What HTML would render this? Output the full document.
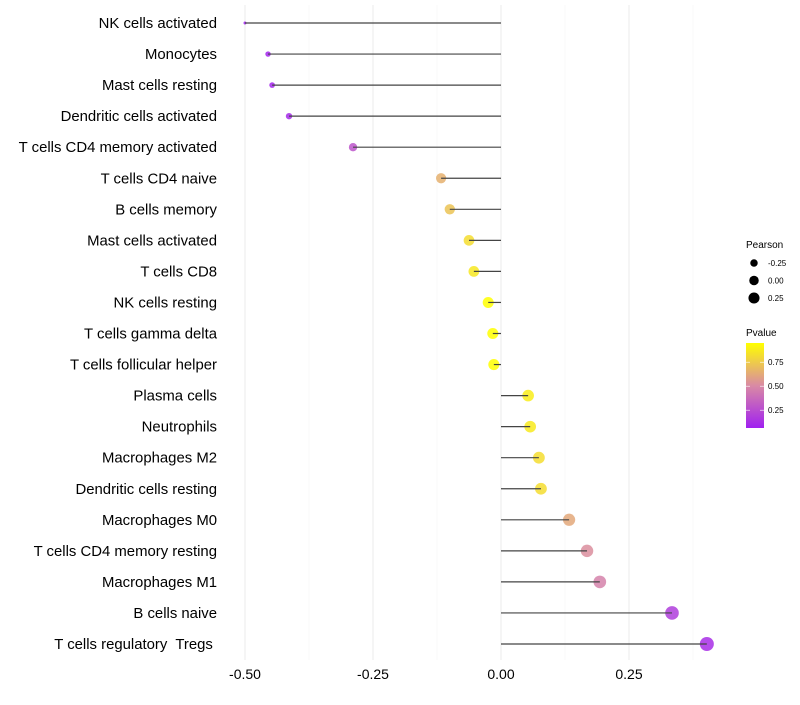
<!DOCTYPE html>
<html><head><meta charset="utf-8"><style>
body{margin:0;background:#fff;font-family:"Liberation Sans",sans-serif}
text{white-space:pre}
</style></head><body>
<svg id="c" width="800" height="700" xmlns="http://www.w3.org/2000/svg"></svg>
<script>
const categories=["NK cells activated","Monocytes","Mast cells resting","Dendritic cells activated","T cells CD4 memory activated","T cells CD4 naive","B cells memory","Mast cells activated","T cells CD8","NK cells resting","T cells gamma delta","T cells follicular helper","Plasma cells","Neutrophils","Macrophages M2","Dendritic cells resting","Macrophages M0","T cells CD4 memory resting","Macrophages M1","B cells naive","T cells regulatory  Tregs "];
const pearson=[-0.50,-0.455,-0.447,-0.414,-0.289,-0.117,-0.100,-0.0625,-0.053,-0.025,-0.016,-0.014,0.053,0.057,0.074,0.078,0.133,0.168,0.193,0.334,0.402];
const pvalue=[0.06,0.08,0.08,0.10,0.28,0.65,0.72,0.82,0.86,0.95,0.95,0.95,0.88,0.87,0.82,0.82,0.62,0.52,0.47,0.18,0.12];
const xTicks=[-0.5,-0.25,0,0.25];
const xTickLabels=["-0.50","-0.25","0.00","0.25"];
const sizeLegend=[-0.25,0,0.25];
const sizeLegendLabels=["-0.25","0.00","0.25"];
const colorLegend=[0.75,0.5,0.25];
const colorLegendLabels=["0.75","0.50","0.25"];

const svg=document.getElementById('c');
const NS="http://www.w3.org/2000/svg";
function mk(t,a,p){const e=document.createElementNS(NS,t);for(const k in a)e.setAttribute(k,a[k]);(p||svg).appendChild(e);return e;}
const x=v=>501+v*512;
const y=i=>23+i*31.05;
const r=v=>1.5+5.5*Math.sqrt(Math.max(0,(v+0.5)/0.9));
function lerp(a,b,t){return a.map((c,i)=>Math.round(c+(b[i]-c)*t));}
function col(p){let t=(p-0.06)/(0.95-0.06);t=Math.max(0,Math.min(1,t));
 const A=[160,32,240],M=[217,138,164],B=[255,255,0];
 const c=t<0.5?lerp(A,M,t/0.5):lerp(M,B,(t-0.5)/0.5);return `rgb(${c.join(',')})`;}

for(let v=-0.5;v<=0.38;v+=0.125){
 const major=Math.abs((v/0.25)-Math.round(v/0.25))<1e-6;
 const g=mk('line',{x1:x(v),x2:x(v),y1:5,y2:660,stroke:major?'#ebebeb':'#f3f3f3','stroke-width':major?1:0.6});
 
 
}
xTicks.forEach((v,i)=>{
 const t=mk('text',{x:x(v),y:679,'text-anchor':'middle','font-size':14,fill:'#000'});
 t.textContent=xTickLabels[i];
 
 
});
categories.forEach((c,i)=>{
 const t=mk('text',{x:217,y:y(i)+5,'text-anchor':'end','font-size':14.9,fill:'#000'});
 t.textContent=c;
 
 
 const ci=mk('circle',{cx:x(pearson[i]),cy:y(i),r:r(pearson[i]),fill:col(pvalue[i]),'fill-opacity':0.85});
 
 
 const l=mk('line',{x1:x(0),x2:x(pearson[i]),y1:y(i),y2:y(i),stroke:'#444','stroke-width':1.2});
 
 
});
const st=mk('text',{x:746,y:248,'font-size':10});st.textContent='Pearson';


sizeLegend.forEach((v,i)=>{
 const cy=263+i*17.5;
 const c=mk('circle',{cx:754,cy:cy,r:r(v)*0.85,fill:'#000'});
 
 
 const t=mk('text',{x:768,y:cy+3,'font-size':8});t.textContent=sizeLegendLabels[i];
 
 
});
const ct=mk('text',{x:746,y:336,'font-size':10});ct.textContent='Pvalue';


const defs=mk('defs',{});
const lg=mk('linearGradient',{id:'g',x1:0,y1:1,x2:0,y2:0},defs);
[0,0.25,0.5,0.75,1].forEach(o=>mk('stop',{offset:o,'stop-color':col(0.06+o*0.89)},lg));
const bar=mk('rect',{x:746,y:343,width:18,height:85,fill:'url(#g)'});


colorLegend.forEach((v,i)=>{
 const yy=343+(0.95-v)*96;
 mk('line',{x1:746,x2:750,y1:yy,y2:yy,stroke:'#fff','stroke-width':0.6});
 mk('line',{x1:760,x2:764,y1:yy,y2:yy,stroke:'#fff','stroke-width':0.6});
 const t=mk('text',{x:768,y:yy+3,'font-size':8});t.textContent=colorLegendLabels[i];
 
 
});
</script>
</body></html>
